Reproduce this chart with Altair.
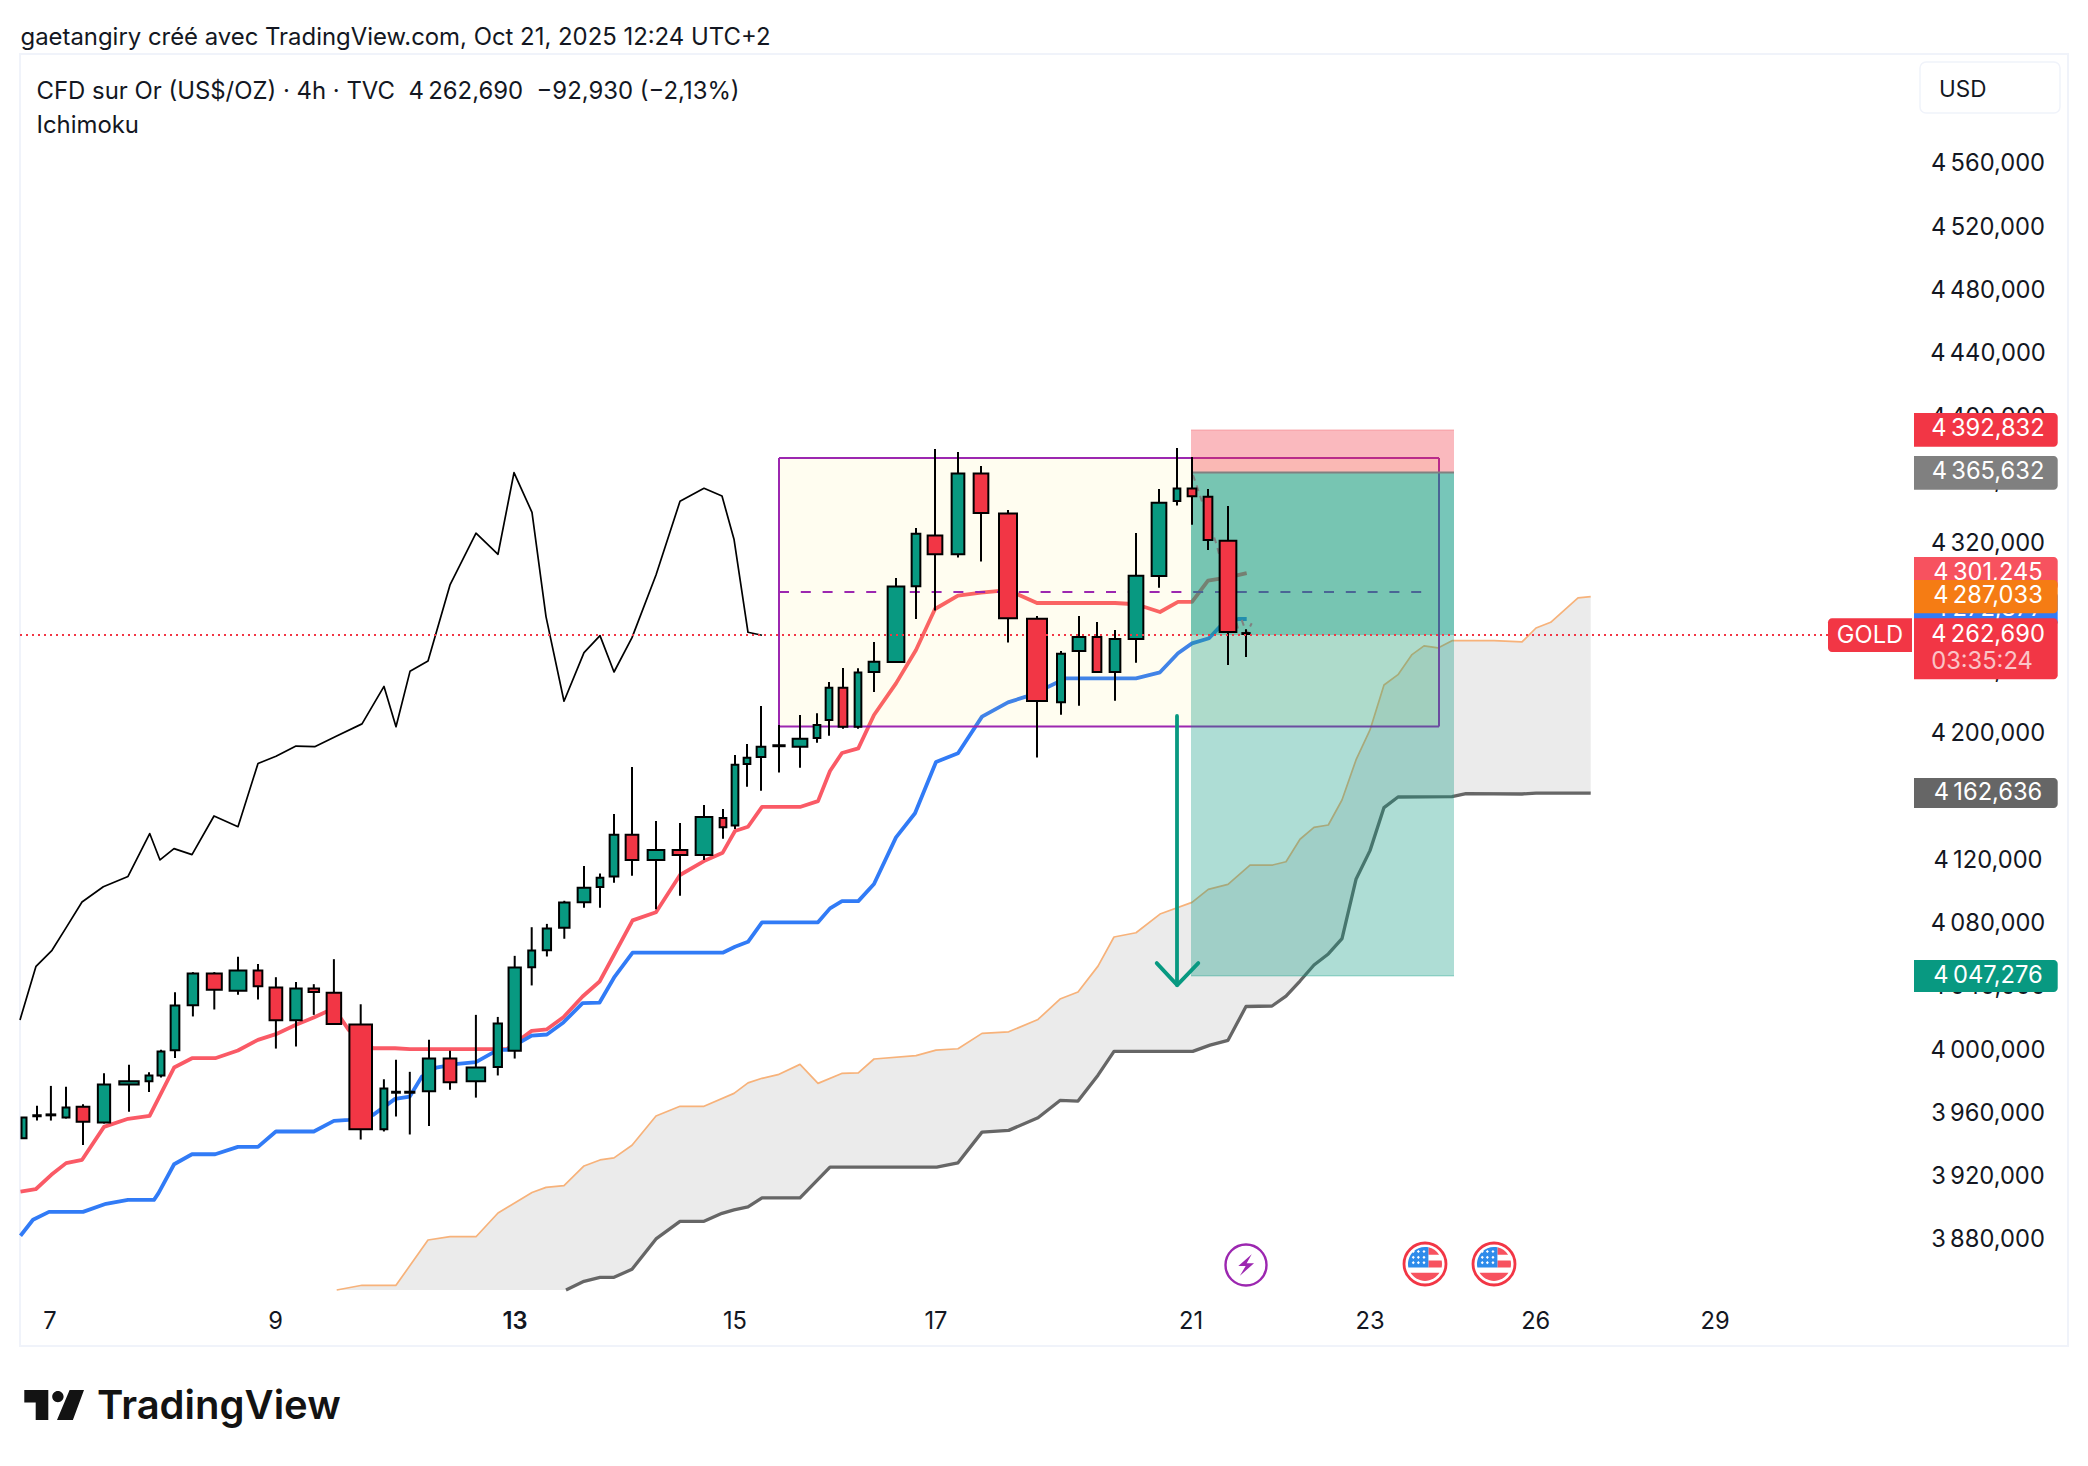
import numpy as np
import pandas as pd
import altair as alt

FONT = "Inter"
NN = "\u202f"
NB = "\u00a0"

# ---- candles: position along the (equivolume) time axis, bar width = volume
bar_pos = [24,37,50.9,66,83,104,129,149,161,175,192.9,214.3,238,258,275.9,296,313.8,333.9,360.7,383.9,396,409.8,429,450,475.9,497.8,514.7,531.7,546.9,564.3,
           584,600,614,632,656,680,704,723,735,747,761,779,800,817,829,843,858,874,896,916,935,958,981,1008,1037,1061,1079,1097,1115,1136,1159,1177,1192,1208,1228,1246]
bar_vol = [7,9.4,10.7,8.9,14.7,14.3,21.4,8.9,8.9,10.7,12.5,17,18.8,10.7,14.7,13.4,12.5,16.5,24.6,8.9,9.8,11.2,14.3,14.7,20.5,10.3,14.3,8.9,10.3,12.5,
           14.7,8.7,10.7,14.7,18.7,16.7,18.7,8.7,8.7,8.7,10.7,13.3,16.7,8.7,8.7,10.7,8.7,12.7,18.7,10.7,16.7,14.7,16.7,20,22,10,14.7,10.7,12.7,16.7,16.7,8.7,10.7,10.7,18.7,9.3]
bar_open = [3943.3,3957.2,3957.8,3956.4,3963.2,3953.3,3977.3,3979.4,3983,3999,4027.4,4047.4,4036.5,4049.3,4038.6,4017.9,4038,4035.2,4015.2,3949,3972.1,3972.1,3973.1,3993.7,3979.4,3988.4,3998.6,4051.4,4062.2,4076.3,
            4092.4,4102.1,4108.8,4135.2,4119.2,4125.5,4122.3,4145.7,4141,4179.8,4184.3,4191.1,4190.8,4196.3,4207.6,4228.1,4203.4,4238,4244.3,4292.2,4324.2,4312.4,4363.4,4338.1,4271.7,4218.8,4251.3,4260.1,4238,4258.9,4298.7,4346.1,4353.9,4348.8,4321,4262]
bar_high = [3956.4,3963.8,3976.4,3975.8,3964.8,3984.4,3989.7,3985.1,3999.2,4035.6,4048.3,4048.3,4058,4053.5,4045.1,4042,4040.7,4056.5,4028,3980.6,3992.9,3985.3,4005.5,3998.6,4021.3,4020,4058.6,4076.7,4078.8,4093.4,
            4115.4,4110.7,4148.2,4178,4143.8,4142.5,4153.9,4151.4,4185.5,4192.5,4216.5,4204.5,4210.8,4212,4231.7,4240.5,4240.3,4257,4297.4,4329,4379,4377,4368.2,4340.4,4273.4,4251.3,4273.4,4269.6,4264.6,4325.9,4353.7,4379.6,4373.9,4353.7,4342.9,4265]
bar_low = [3943.3,3954.5,3954.5,3955.8,3939.1,3952.6,3960,3972.6,3981.7,3994.1,4020.3,4024.7,4034,4031,4000,4001.3,4021.3,4015.6,3942.5,3947.6,3957,3945.7,3951.1,3973.9,3969,3983,3993.7,4039.9,4058.2,4069.4,
           4089,4089,4104.8,4109.3,4088,4096.6,4119.2,4132.6,4138.8,4165.5,4163,4174.4,4177.5,4193.3,4197.7,4202.2,4202.2,4225.4,4244.3,4271.5,4276.8,4310.3,4307.8,4256.6,4183.9,4211,4216.7,4238,4219.9,4243.9,4291.3,4343.2,4331.1,4315.1,4242.4,4247.5]
bar_close = [3956.4,3957.8,3958.4,3962.7,3953.7,3977.3,3979.4,3983,3998.1,4027.2,4047.4,4037.1,4049.3,4039.4,4017.9,4038,4035.8,4015.6,3949,3974.7,3972.7,3972.7,3993.7,3978.7,3988,4015.8,4051.2,4062,4075.9,4092.3,
             4101.7,4108,4135.2,4119.2,4125.5,4122.3,4146.3,4139.8,4179.4,4183.8,4190.8,4191.7,4195.8,4204.5,4228.1,4203.4,4237.6,4244.5,4292,4325.4,4312.4,4363.4,4338.5,4271.9,4219.7,4249.6,4260.1,4238,4258.9,4298.9,4345,4353.9,4349,4321.4,4263.3,4262.6]

# ---- Ichimoku lines
conv_x = [20.5,35.7,51.3,66.1,82.1,104,128.1,149.6,174.1,192,215.2,237.9,258,275.9,296,313.8,333.9,348.7,373.2,395.1,409.8,506.7,531.7,546.9,563.4,582.6,599.6,632.6,656,680,704,722.7,735,748,762,800,818,830,842,858.3,874,896,916,935,958,981,1008,1037,1115,1136,1160,1178,1192,1208,1228,1246.7]
conv_p = [3909.6,3911.1,3920.2,3927.6,3929.7,3950.5,3955.6,3957.5,3988,3993.9,3993.9,3998.8,4005.5,4009.1,4015,4019.6,4025.5,4011.8,4000.2,4000.2,3999.6,3999.6,4011.2,4012.2,4019.8,4032.9,4042.4,4081,4086.2,4109.7,4118.5,4123.8,4137.5,4140.2,4152.7,4152.7,4156.4,4175.4,4186.8,4189.7,4210.8,4230.8,4251.9,4277.8,4286.3,4288.2,4289.8,4281.6,4281.6,4280.8,4275.9,4282.3,4282.3,4295.7,4297.8,4300.5]
base_x = [20.5,33,49,83,106,128,154,158.5,174.1,192,215.2,237.9,258,275.9,313.8,333.9,348.7,373.2,395.1,409.8,421.9,436.2,457.6,475.9,497.8,506.7,531.7,546.9,563.4,582.6,599.6,614.7,632.6,722.7,735,748,762,818,830,842,858.3,874,896,915,936,958,982,1008,1026,1048.3,1066,1136,1160,1178,1192,1209,1220,1238.3,1246.7]
base_p = [3881.7,3891.8,3896.8,3896.8,3901.9,3904.4,3904.4,3908.6,3926.9,3933.2,3933.2,3937.9,3937.9,3947.6,3947.6,3954.3,3954.9,3958.1,3968.2,3969.7,3982.3,3988,3990.3,3991.4,3999.2,3999.2,4008.2,4008.9,4016.5,4028.7,4029.1,4045.5,4060.7,4060.6,4064.4,4067.5,4079.8,4079.8,4088.6,4093.2,4093.2,4104,4133.5,4148.7,4181.1,4186.6,4209.8,4218.8,4222.4,4228.7,4234,4234,4237.8,4249.8,4256.1,4259.3,4266.7,4271.5,4271.5]
lag_x = [20,36,52,66,82,103.3,128,149.7,160,174,192,214,238,258,276,296,314.7,336.7,362,384,396,410,428,450,476,498,514,532,546,564,584,600,614,632,656,680,704,722,734,748,762]
lag_p = [4018.1,4052,4062.1,4076.3,4092.6,4102.3,4108.8,4135.9,4119.2,4126.4,4122.6,4147,4140.2,4180.2,4184.7,4191.2,4190.8,4197.5,4205.2,4228.9,4203.4,4238.4,4244.9,4293,4325.7,4312.4,4364,4338.9,4273,4219.5,4250.2,4261,4238,4259.7,4299.3,4345.9,4354.1,4349.2,4321.9,4263.1,4261.2]
spanA_x = [336.7,362,396,428,450,476,498,532,546,564,584,600,614,632,656,680,704,734,748,762,778,800,818,841.7,858.3,874,916,936,958,982,1008.7,1038,1060,1078,1098,1114,1136,1160,1192,1208.3,1228,1250,1272.7,1286,1300,1314,1328.3,1342,1356,1370,1384,1398,1412,1424,1438,1452,1494,1522,1536,1550.7,1578,1590.7]
spanA_p = [3847.4,3850.4,3850.4,3879,3881.1,3881.1,3896.1,3909,3912.3,3913.4,3925.8,3929.6,3930.9,3938.9,3957.4,3963.5,3963.5,3971.7,3978.3,3981.2,3983.5,3990,3978,3984.3,3984.7,3993.4,3995.5,3999,3999.9,4009.6,4010.6,4018.4,4031.3,4035.7,4052.1,4070.5,4073.2,4085,4092.4,4100.6,4103.8,4116,4116,4118.1,4132.3,4139.8,4141.3,4157.1,4182.4,4201.4,4229.8,4236.3,4249,4254.5,4253.2,4257.8,4257.8,4257,4265.8,4269.4,4284.8,4285.6]
spanB_x = [566,584,600,614,632,656,680,704,722,734,748,762,800,830,936.7,958,982,1008.7,1038,1060,1078,1098,1114,1192.7,1210,1228,1246,1272,1286,1300,1314,1328.3,1342,1356,1370,1384,1398,1452,1466,1522,1536,1590.7]
spanB_p = [3847.4,3852.9,3855.4,3855.4,3860.5,3879.7,3890.8,3890.8,3895.9,3898,3899.9,3905.6,3905.6,3925.1,3925.1,3927.8,3947.2,3948.3,3956.3,3967.2,3966.8,3983.2,3998.2,3998.2,4002.2,4005.2,4026.6,4026.9,4033.2,4042.7,4052.8,4059.8,4069.5,4107,4125.1,4152.3,4159,4159.2,4161.1,4160.9,4161.5,4161.5]

# ---- annotations
range_box = dict(x0=779, x1=1439, top=4373.3, bottom=4203.5, mid=4288.6)
position = dict(x0=1191, x1=1454, stop=4391, entry=4364, target=4046, last=4261.4)
path_x = [1193,1216.7,1238.3]
path_p = [4362.5,4318.3,4264.6]
tip_x = [1241.7,1246.7,1251.7]
tip_p = [4270.9,4262.4,4268.8]
arrow_x = [1177,1177]
arrow_p = [4210.2,4040.1]
head_x = [1156.7,1177.2,1198.3]
head_p = [4054,4040.1,4054]

# ---- axis text
price_ticks = [4560,4520,4480,4440,4400,4360,4320,4280,4240,4200,4160,4120,4080,4040,4000,3960,3920,3880]
day_labels = ["7","9","13","15","17","21","23","26","29"]
day_pos = [50,275.7,515,735,936,1191,1370,1535.7,1715]

GREEN, RED = "#089981", "#F23645"
PURPLE = "#9C27B0"
INK = "#131722"
TSIZE = 23.7
W, H = 2072, 1450
xs = alt.Scale(domain=[8, 8 + W], nice=False, zero=False)
ys = alt.Scale(domain=[3741.24, 4657.64], nice=False, zero=False)
X = lambda f: alt.X(f, type="quantitative", scale=xs, axis=None)
Y = lambda f: alt.Y(f, type="quantitative", scale=ys, axis=None)
px = lambda v: alt.value(v - 8)


def line(x, p, color, width, **kw):
    df = pd.DataFrame({"x": x, "p": p, "o": range(len(x))})
    return alt.Chart(df).mark_line(color=color, strokeWidth=width, clip=False, strokeJoin="round", **kw).encode(
        x=X("x"), y=Y("p"), order=alt.Order("o:Q"))


def hrule(x0, x1, p, color, width, **kw):
    df = pd.DataFrame({"x": [x0], "x2": [x1], "p": [p]})
    return alt.Chart(df).mark_rule(color=color, strokeWidth=width, **kw).encode(x=X("x"), x2="x2:Q", y=Y("p"))


def zone(x0, x1, top, bottom, color, opacity):
    df = pd.DataFrame({"x": [x0], "x2": [x1], "p": [top], "p2": [bottom]})
    return alt.Chart(df).mark_rect(color=color, opacity=opacity).encode(x=X("x"), x2="x2:Q", y=Y("p"), y2="p2:Q")


def text(s, x, y, size=TSIZE, color=INK, align="left", weight=400, opacity=1.0):
    return alt.Chart(pd.DataFrame({"t": [s]})).mark_text(
        font=FONT, fontSize=size, color=color, align=align, baseline="middle", fontWeight=weight, opacity=opacity
    ).encode(x=px(x), y=px(y), text="t:N")


def box(x0, x1, y0, y1, fill, stroke=None, sw=0, **kw):
    args = dict(fill=fill, strokeWidth=sw, **kw)
    if stroke:
        args["stroke"] = stroke
    df = pd.DataFrame({"a": [0]})
    return alt.Chart(df).mark_rect(**args).encode(x=px(x0), x2=px(x1), y=px(y0), y2=px(y1))


def icon(shape, x, y, side, fill):
    df = pd.DataFrame({"a": [0]})
    return alt.Chart(df).mark_point(shape=shape, size=side * side, filled=True, fill=fill, fillOpacity=1, strokeWidth=0, opacity=1).encode(
        x=px(x), y=px(y))


def ring(x, y, d, stroke, sw):
    df = pd.DataFrame({"a": [0]})
    return alt.Chart(df).mark_point(shape="circle", size=d * d, filled=False, stroke=stroke, strokeWidth=sw, opacity=1).encode(
        x=px(x), y=px(y))


layers = []
layers.append(box(20, 2068, 54, 1346, "#ffffff", "#F0F3FA", 2))

# cloud between the two spans, closed along every vertex of both
cloud_x = np.unique(np.array(spanA_x + spanB_x, dtype=float))
cloud_x = cloud_x[cloud_x >= spanA_x[0]]
cloud = pd.DataFrame({
    "x": cloud_x,
    "a": np.interp(cloud_x, spanA_x, spanA_p),
    "b": np.interp(cloud_x, spanB_x, spanB_p, left=spanB_p[0]),
})
layers.append(alt.Chart(cloud).mark_area(color="#EBEBEB", opacity=1).encode(x=X("x"), y=Y("a"), y2="b:Q"))
layers.append(line(spanA_x, spanA_p, "#F7B27A", 1.7))
layers.append(line(spanB_x, spanB_p, "#666666", 3.3))
layers.append(line(lag_x, lag_p, "#000000", 1.7))
layers.append(line(conv_x, conv_p, "#FA5A66", 3.8))
layers.append(line(base_x, base_p, "#317BF6", 3.8))

# range box
layers.append(zone(range_box["x0"], range_box["x1"], range_box["top"], range_box["bottom"], "#FFEB3B", 0.08))
layers.append(hrule(range_box["x0"], range_box["x1"] - 12, range_box["mid"], PURPLE, 2, strokeDash=[10, 11.8]))
for p in (range_box["top"], range_box["bottom"]):
    layers.append(hrule(range_box["x0"], range_box["x1"], p, PURPLE, 2))
for bx in (range_box["x0"], range_box["x1"]):
    layers.append(alt.Chart(pd.DataFrame({"x": [bx], "p": [range_box["top"]], "p2": [range_box["bottom"]]})).mark_rule(
        color=PURPLE, strokeWidth=2).encode(x=X("x"), y=Y("p"), y2="p2:Q"))

# short position tool
layers.append(zone(position["x0"], position["x1"], position["stop"], position["entry"], RED, 0.35))
layers.append(zone(position["x0"], position["x1"], position["entry"], position["target"], GREEN, 0.33))
layers.append(zone(position["x0"], position["x1"], position["entry"], position["last"], GREEN, 0.33))
layers.append(hrule(position["x0"], position["x1"], position["stop"], RED, 1.2, opacity=0.25))
layers.append(hrule(position["x0"], position["x1"], position["entry"], "#808080", 2))
layers.append(hrule(position["x0"], position["x1"], position["target"], GREEN, 1.4, opacity=0.3))
layers.append(line(path_x, path_p, "#808080", 2, strokeDash=[6, 5]))
layers.append(line(tip_x, tip_p, "#808080", 2, strokeDash=[6, 5]))

# candles
bars = pd.DataFrame({"pos": bar_pos, "vol": bar_vol, "open": bar_open, "high": bar_high, "low": bar_low, "close": bar_close})
bars["left"] = bars["pos"] - bars["vol"] / 2 + 1
bars["right"] = bars["pos"] + bars["vol"] / 2 - 1
bars["dir"] = np.where(bars["close"] >= bars["open"], "up", "down")
layers.append(alt.Chart(bars).mark_rule(color="#000000", strokeWidth=2).encode(x=X("pos"), y=Y("high"), y2="low:Q"))
layers.append(alt.Chart(bars).mark_rect(stroke="#000000", strokeWidth=2, opacity=1).encode(
    x=X("left"), x2="right:Q", y=Y("open"), y2="close:Q",
    fill=alt.Fill("dir:N", scale=alt.Scale(domain=["up", "down"], range=[GREEN, RED]), legend=None)))

# arrow
layers.append(line(arrow_x, arrow_p, GREEN, 3.8, strokeCap="round"))
layers.append(line(head_x, head_p, GREEN, 3.8, strokeCap="round"))

# last price line
layers.append(hrule(20, 1828, position["last"], RED, 2, strokeDash=[2, 4]))

# axis text
for t in price_ticks:
    s = f"{t // 1000}{NN}{t % 1000:03d},000"
    df = pd.DataFrame({"p": [t], "t": [s]})
    layers.append(alt.Chart(df).mark_text(font=FONT, fontSize=TSIZE, color=INK, align="center", baseline="middle", dy=2).encode(
        x=px(1988), y=Y("p"), text="t:N"))
for s, x in zip(day_labels, day_pos):
    df = pd.DataFrame({"x": [x], "t": [s]})
    layers.append(alt.Chart(df).mark_text(font=FONT, fontSize=TSIZE, color=INK, align="center", baseline="middle",
                                          fontWeight=600 if s == "13" else 400).encode(x=X("x"), y=px(1321.5), text="t:N"))

# price labels
CR = dict(cornerRadiusTopRight=4, cornerRadiusBottomRight=4)
labels = [
    (413, 446.7, "#F23645", f"4{NN}392,832", 429),
    (456, 489.7, "#808080", f"4{NN}365,632", 472),
    (557, 590, "#F7525F", f"4{NN}301,245", 573),
    (592, 626, "#317BF6", f"4{NN}272,877", 609),
    (580, 613.3, "#F57C14", f"4{NN}287,033", 596),
    (778, 808, "#666666", f"4{NN}162,636", 793),
    (960, 992, "#089981", f"4{NN}047,276", 976),
    (618.3, 679.3, "#F23645", f"4{NN}262,690", 635),
]
for y0, y1, col, s, yt in labels:
    layers.append(box(1914, 2057.7, y0, y1, col, **CR))
    layers.append(text(s, 1988, yt, color="#ffffff", align="center"))
layers.append(text("03:35:24", 1982, 662, color="#ffffff", align="center", opacity=0.7))
layers.append(box(1828, 1912, 618.3, 652, "#F23645", cornerRadiusTopLeft=4, cornerRadiusBottomLeft=4))
layers.append(text("GOLD", 1870, 635.5, color="#ffffff", align="center"))

# header
layers.append(text("gaetangiry créé avec TradingView.com, Oct 21, 2025 12:24 UTC+2", 20.5, 37.5, size=23.9))
layers.append(text(f"CFD sur Or (US$/OZ) · 4h · TVC{NB}{NB}4{NN}262,690{NB}{NB}−92,930 (−2,13%)", 36.5, 91.5, size=23.9))
layers.append(text("Ichimoku", 36.5, 126, size=23.9))
layers.append(box(1920, 2060, 62, 113, "#ffffff", "#F0F3FA", 1.5, cornerRadius=6))
layers.append(text("USD", 1939, 89.5, size=22.5))

# event icons
bolt = "M.52,-.97 L-.7,.09 L-.03,.09 L-.55,.97 L.73,-.15 L.06,-.15 Z"
layers.append(ring(1246, 1265, 41, PURPLE, 2.4))
layers.append(icon(bolt, 1246, 1265, 22, PURPLE))
canton = "M.2,.2 L-.98,.2 A1,1 0 0 1 .2,-.98 Z"
stripes = ("M.2,-.98 A1,1 0 0 1 .83,-.55 L.2,-.55 Z "
           "M.2,-.2 L.98,-.2 A1,1 0 0 1 .98,.2 L.2,.2 Z "
           "M-.85,.52 L.85,.52 A1,1 0 0 1 -.85,.52 Z")
stars = " ".join(f"M{a:.2f},{b - .09:.2f} L{a + .09:.2f},{b:.2f} L{a:.2f},{b + .09:.2f} L{a - .09:.2f},{b:.2f} Z"
                 for a in (-.69, -.39, -.06) for b in (-.73, -.39, -.08))
for cx in (1425, 1494):
    layers.append(ring(cx, 1264, 42, "#F23645", 2.8))
    layers.append(icon(stripes, cx, 1264, 34, "#F7525F"))
    layers.append(icon(canton, cx, 1264, 34, "#2E8BEA"))
    layers.append(icon(stars, cx, 1264, 34, "#ffffff"))

# brand
logo = ("M-.99,-.5 L-.19,-.5 L-.19,.5 L-.61,.5 L-.61,-.08 L-.99,-.08 Z "
        "M.52,-.5 L1,-.5 L.63,.5 L.1,.5 Z "
        "M-.06,-.28 A.19,.19 0 1 1 .32,-.28 A.19,.19 0 1 1 -.06,-.28 Z")
layers.append(icon(logo, 54, 1405, 60, "#131313"))
layers.append(text("TradingView", 97, 1407, size=40, weight=600, color="#131313"))

chart = alt.layer(*layers).properties(
    width=W, height=H, padding=0, autosize=alt.AutoSizeParams(type="none"), background="#ffffff"
).configure_view(stroke=None)
chart.save("out.html", embed_options={"renderer": "svg", "actions": False})
